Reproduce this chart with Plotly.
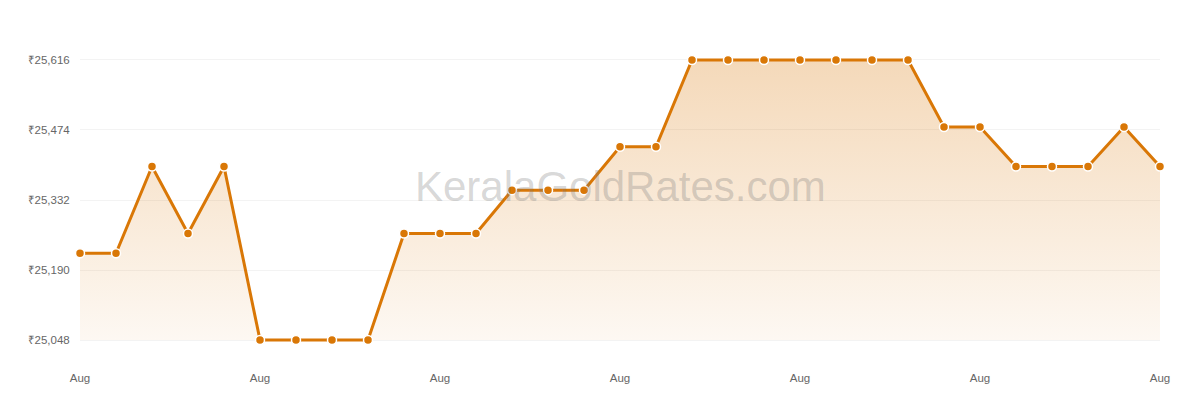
import plotly.graph_objects as go

dates = [f"2024-08-{d:02d}" for d in range(1, 32)]
prices = [25224, 25224, 25400, 25264, 25400, 25048, 25048, 25048, 25048, 25264,
          25264, 25264, 25352, 25352, 25352, 25440, 25440, 25616, 25616, 25616,
          25616, 25616, 25616, 25616, 25480, 25480, 25400, 25400, 25400, 25480, 25400]
y_ticks = [25048, 25190, 25332, 25474, 25616]
y_tick_labels = ["₹25,048", "₹25,190", "₹25,332", "₹25,474", "₹25,616"]

LINE = "#D97706"
base = min(prices)
pad = 12  # value padding so the line is not clipped at the plot edges

fig = go.Figure()
fig.add_trace(go.Scatter(
    x=dates, y=[base] * len(dates), mode="lines",
    line=dict(width=0, color="rgba(0,0,0,0)"), hoverinfo="skip", showlegend=False,
))
fig.add_trace(go.Scatter(
    x=dates, y=prices, mode="lines+markers",
    fill="tonexty",
    fillgradient=dict(type="vertical",
                      colorscale=[[0, "rgba(217,119,6,0.05)"], [1, "rgba(217,119,6,0.28)"]]),
    line=dict(color=LINE, width=3),
    marker=dict(size=9, color=LINE, line=dict(color="white", width=1.5)),
    cliponaxis=False, showlegend=False,
))

fig.add_annotation(
    text="KeralaGoldRates.com", xref="paper", yref="paper", x=0.5, y=0.545,
    showarrow=False, font=dict(family="Liberation Sans, Arial", size=42, color="rgba(120,120,120,0.3)"),
)

fig.update_layout(
    width=1200, height=400,
    margin=dict(l=72, r=48, t=46, b=62),
    paper_bgcolor="white", plot_bgcolor="white",
    font=dict(family="Liberation Sans, Arial", size=11.5, color="#666"),
    xaxis=dict(
        type="date", range=[dates[0], dates[-1]],
        tick0=dates[0], dtick=5 * 86400000, tickformat="%b",
        showgrid=False, zeroline=False, showline=False,
        ticks="outside", ticklen=21, tickcolor="rgba(0,0,0,0)",
        tickfont=dict(size=11.5, color="#666"),
    ),
    yaxis=dict(
        range=[y_ticks[0] - pad, y_ticks[-1] + pad],
        tickvals=y_ticks, ticktext=y_tick_labels,
        showgrid=True, gridcolor="#f3f3f3", gridwidth=1,
        zeroline=False, showline=False,
        ticks="outside", ticklen=7, tickcolor="rgba(0,0,0,0)",
        tickfont=dict(size=11.5, color="#666"),
    ),
)

fig.write_html("out.html")
